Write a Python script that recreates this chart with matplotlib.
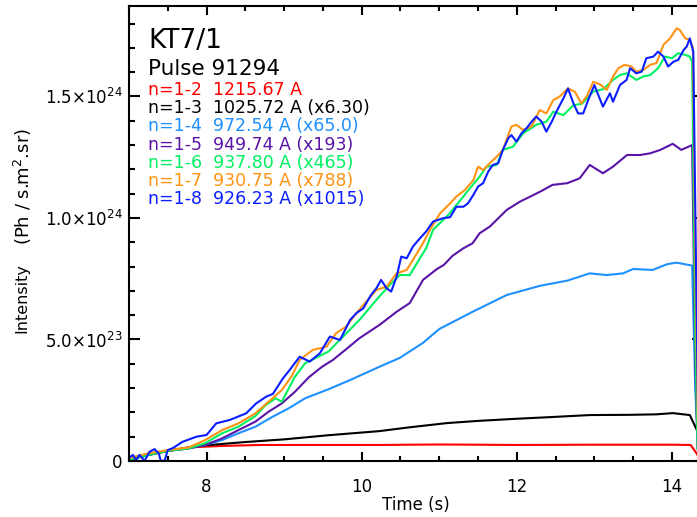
import matplotlib
matplotlib.use("Agg")
import matplotlib.pyplot as plt
import numpy as np
from matplotlib.ticker import FixedLocator, MultipleLocator

# Intensities are in units of 1e23 Ph/s.m^2.sr
t_red = [6.99, 7.25, 7.51, 7.77, 8.2, 8.7, 9.5, 10.23, 11.0, 12.0, 13.0, 14.0, 14.24, 14.32, 14.37]
i_red = [0.07, 0.25, 0.43, 0.56, 0.62, 0.66, 0.66, 0.66, 0.68, 0.66, 0.67, 0.67, 0.66, 0.3, 0.0]

t_black = [6.99, 7.25, 7.51, 7.77, 8.0, 8.5, 9.0, 9.57, 10.23, 10.6, 11.1, 11.5, 11.95, 12.46,
           12.94, 13.46, 13.8, 14.01, 14.23, 14.32, 14.37]
i_black = [0.05, 0.25, 0.42, 0.55, 0.65, 0.78, 0.89, 1.06, 1.23, 1.38, 1.56, 1.65, 1.73, 1.81,
           1.89, 1.9, 1.92, 1.97, 1.89, 1.28, 0.8]

t_lblue = [6.99, 7.25, 7.51, 7.77, 7.98, 8.2, 8.41, 8.63, 8.84, 9.06, 9.27, 9.49, 9.57, 9.85,
           10.23, 10.49, 10.79, 11.0, 11.43, 11.87, 12.3, 12.65, 12.94, 13.16, 13.37, 13.5,
           13.75, 13.94, 14.06, 14.26, 14.3, 14.34, 14.37]
i_lblue = [0.05, 0.25, 0.42, 0.52, 0.66, 0.86, 1.14, 1.41, 1.8, 2.17, 2.58, 2.85, 2.95, 3.33,
           3.88, 4.24, 4.86, 5.43, 6.14, 6.83, 7.21, 7.42, 7.72, 7.65, 7.72, 7.9,
           7.86, 8.1, 8.16, 8.04, 3.0, 0.3, 0.0]

t_purple = [6.99, 7.25, 7.51, 7.77, 7.98, 8.2, 8.41, 8.63, 8.8, 8.97, 9.14, 9.32, 9.49, 9.63,
            9.8, 9.97, 10.23, 10.45, 10.62, 10.79, 10.97, 11.06, 11.17, 11.31, 11.43, 11.52,
            11.65, 11.87, 12.04, 12.3, 12.46, 12.65, 12.81, 12.94, 13.11, 13.24, 13.42, 13.59,
            13.72, 13.85, 14.01, 14.12, 14.26, 14.3, 14.33, 14.37]
i_purple = [0.05, 0.25, 0.42, 0.52, 0.66, 0.93, 1.27, 1.62, 2.03, 2.37, 2.85, 3.45, 3.88, 4.16,
            4.6, 5.05, 5.6, 6.14, 6.5, 7.45, 7.9, 8.07, 8.44, 8.75, 8.96, 9.37,
            9.64, 10.33, 10.67, 11.08, 11.36, 11.43, 11.63, 12.18, 11.84, 12.11, 12.59, 12.59,
            12.66, 12.8, 13.05, 12.8, 13.0, 4.0, 0.5, 0.0]

t_green = [6.99, 7.25, 7.51, 7.77, 7.98, 8.2, 8.41, 8.63, 8.76, 8.89, 8.97, 9.06, 9.14, 9.27,
           9.4, 9.57, 9.76, 9.97, 10.19, 10.36, 10.49, 10.62, 10.75, 10.83, 10.92, 11.05,
           11.135, 11.265, 11.39, 11.52, 11.61, 11.74, 11.82, 11.95, 12.08, 12.25, 12.38,
           12.47, 12.6, 12.73, 12.84, 12.985, 13.115, 13.24, 13.33, 13.415, 13.54, 13.63,
           13.72, 13.82, 13.91, 14.0, 14.08, 14.17, 14.23, 14.26, 14.3, 14.33, 14.37]
i_green = [0.05, 0.25, 0.42, 0.52, 0.73, 1.14, 1.41, 1.85, 2.3, 2.58, 2.44, 2.99, 3.47, 4.02,
           4.23, 4.5, 5.12, 5.8, 6.63, 7.24, 7.65, 7.65, 8.34, 8.75, 9.51, 9.92,
           10.19, 10.7, 11.2, 11.7, 12.11, 12.18, 12.8, 12.93, 13.48, 13.83, 13.96,
           14.37, 14.23, 14.64, 14.7, 15.2, 15.3, 15.68, 15.88, 15.95, 15.68, 15.82,
           15.88, 16.16, 16.64, 16.57, 16.78, 16.71, 16.64, 16.4, 5.0, 0.5, 0.0]

t_orange = [6.99, 7.25, 7.51, 7.77, 7.98, 8.2, 8.41, 8.63, 8.8, 8.97, 9.1, 9.2, 9.37, 9.545,
            9.67, 9.8, 9.93, 10.06, 10.19, 10.32, 10.45, 10.58, 10.66, 10.79, 10.88, 11.01,
            11.14, 11.22, 11.33, 11.44, 11.5, 11.565, 11.65, 11.74, 11.82, 11.93, 11.995,
            12.08, 12.19, 12.295, 12.38, 12.47, 12.55, 12.66, 12.75, 12.83, 12.9, 12.985,
            13.07, 13.16, 13.24, 13.31, 13.39, 13.48, 13.54, 13.63, 13.72, 13.8, 13.89,
            13.975, 14.06, 14.1, 14.17, 14.23, 14.27, 14.31, 14.34, 14.37]
i_orange = [0.11, 0.32, 0.45, 0.56, 0.86, 1.27, 1.55, 1.96, 2.44, 2.92, 3.5, 4.16, 4.57, 4.7,
            5.26, 5.53, 6.08, 6.56, 7.04, 7.17, 7.72, 7.86, 8.27, 8.96, 9.51, 10.19,
            10.6, 10.88, 11.15, 11.56, 12.11, 11.97, 12.25, 12.52, 12.8, 13.76, 13.83,
            13.62, 13.76, 14.44, 14.3, 14.85, 14.99, 15.33, 15.19, 14.71, 15.0, 15.6,
            15.5, 15.27, 15.82, 16.16, 16.3, 16.23, 16.02, 16.09, 16.3, 16.37, 17.12,
            17.39, 17.8, 17.74, 17.39, 17.32, 17.0, 6.0, 0.5, 0.0]

t_blue = [6.99, 7.05, 7.09, 7.135, 7.2, 7.265, 7.33, 7.385, 7.41, 7.46, 7.5, 7.565, 7.69,
          7.87, 8.0, 8.125, 8.3, 8.51, 8.64, 8.77, 8.855, 8.985, 9.07, 9.2, 9.33, 9.46,
          9.59, 9.72, 9.85, 9.93, 10.02, 10.12, 10.19, 10.25, 10.32, 10.38, 10.45, 10.51,
          10.58, 10.66, 10.75, 10.83, 10.92, 11.05, 11.14, 11.22, 11.31, 11.37, 11.44, 11.5,
          11.565, 11.63, 11.69, 11.76, 11.82, 11.89, 11.93, 11.995, 12.06, 12.125, 12.19,
          12.25, 12.32, 12.38, 12.45, 12.51, 12.6, 12.66, 12.73, 12.79, 12.855, 12.92, 13.0,
          13.05, 13.11, 13.2, 13.24, 13.33, 13.415, 13.46, 13.54, 13.61, 13.67, 13.76, 13.82,
          13.89, 13.95, 14.02, 14.08, 14.15, 14.19, 14.23, 14.275, 14.31, 14.34, 14.37]
i_blue = [0.11, 0.25, 0.04, 0.25, 0.0, 0.38, 0.49, 0.3, 0.0, 0.02, 0.45, 0.53, 0.79,
          1.0, 1.07, 1.55, 1.69, 1.96, 2.37, 2.65, 2.76, 3.4, 3.74, 4.29, 4.09, 4.43,
          5.12, 4.98, 5.8, 6.08, 6.28, 6.83, 7.11, 7.45, 7.11, 6.97, 7.58, 8.41,
          8.34, 8.82, 9.16, 9.44, 9.85, 9.99, 10.03, 10.46, 10.46, 10.6, 10.95, 11.29,
          11.43, 11.9, 12.18, 12.25, 12.8, 13.28, 13.41, 13.14, 13.48, 13.69, 13.96,
          14.17, 13.96, 13.55, 13.96, 14.37, 14.92, 15.33, 14.71, 14.3, 14.3, 14.85, 15.47,
          15.06, 14.58, 15.13, 14.78, 15.47, 15.68, 16.16, 15.95, 16.02, 16.57, 16.64, 16.84,
          16.64, 16.23, 16.43, 16.5, 16.91, 17.05, 17.39, 16.84, 8.0, 1.0, 0.0]

series = [
    (t_red, i_red, "#ff0000"),
    (t_black, i_black, "#000000"),
    (t_lblue, i_lblue, "#1e90ff"),
    (t_purple, i_purple, "#5a14a8"),
    (t_green, i_green, "#00f060"),
    (t_orange, i_orange, "#ff9414"),
    (t_blue, i_blue, "#0a1eff"),
]

legend_lines = [
    ("n=1-2  1215.67 A", "#ff0000"),
    ("n=1-3  1025.72 A (x6.30)", "#000000"),
    ("n=1-4  972.54 A (x65.0)", "#1e90ff"),
    ("n=1-5  949.74 A (x193)", "#5a14a8"),
    ("n=1-6  937.80 A (x465)", "#00f060"),
    ("n=1-7  930.75 A (x788)", "#ff9414"),
    ("n=1-8  926.23 A (x1015)", "#0a1eff"),
]

y_ticks = [0, 5e23, 1e24, 1.5e24]
y_tick_labels = ["0", r"5.0$\times$10$^{23}$", r"1.0$\times$10$^{24}$", r"1.5$\times$10$^{24}$"]
x_ticks = [8, 10, 12, 14]

W, H = 697, 517
fig = plt.figure(figsize=(W / 100, H / 100), dpi=100)
# right spine sits just past the edge of the figure
ax = fig.add_axes([129 / W, (H - 461) / H, 574 / W, 455 / H])

for t, i, c in series:
    ax.plot(t, np.array(i) * 1e23, color=c, lw=1.5)

ax.set_xlim(7.0, 14.4)
ax.set_ylim(0, 1.872e24)
ax.xaxis.set_major_locator(FixedLocator(x_ticks))
ax.xaxis.set_minor_locator(MultipleLocator(0.5))
ax.yaxis.set_major_locator(FixedLocator(y_ticks))
ax.yaxis.set_minor_locator(MultipleLocator(1e23))
ax.set_yticklabels(y_tick_labels)
ax.set_xticklabels([str(x) for x in x_ticks])

ax.tick_params(which="both", direction="in", top=True, right=True, width=1.5, labelsize=12)
ax.tick_params(axis="y", which="major", length=8, pad=4.5)
ax.tick_params(axis="y", which="minor", length=4.5)
ax.tick_params(axis="x", which="major", length=6.5, pad=12)
ax.tick_params(axis="x", which="minor", length=3.8)
for s in ax.spines.values():
    s.set_linewidth(1.5)

ax.set_xlabel("Time (s)", fontsize=12, labelpad=0)
fig.text(22 / W, 1 - 298 / H, "Intensity", rotation=90,
         ha="center", va="center", fontsize=11.5)
fig.text(23 / W, 1 - 187 / H, r"(Ph / s.m$^2$.sr)", rotation=90,
         ha="center", va="center", fontsize=13)

fig.text(148 / W, 1 - 48 / H, "KT7/1", fontsize=19, va="baseline")
fig.text(148 / W, 1 - 75 / H, "Pulse 91294", fontsize=15.5, va="baseline")
for k, (txt, c) in enumerate(legend_lines):
    fig.text(148 / W, 1 - (95 + 18.2 * k) / H, txt, fontsize=12.5, color=c, va="baseline")

fig.savefig("out.png", dpi=100)
